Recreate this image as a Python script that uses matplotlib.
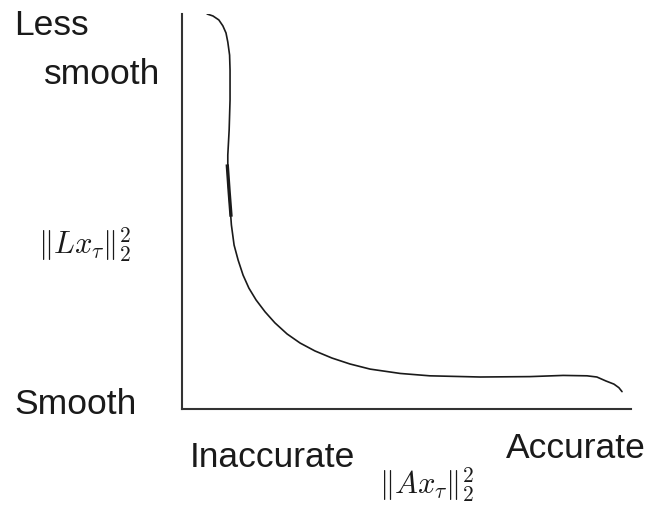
import numpy as np
import matplotlib.pyplot as plt

plt.rcParams['font.family'] = ['Liberation Sans', 'DejaVu Sans']
plt.rcParams['mathtext.fontset'] = 'cm'

# L-curve: residual norm (x) against solution seminorm (y), both normalised
residual = [0.056, 0.069, 0.082, 0.091, 0.098, 0.102, 0.106, 0.107, 0.107,
            0.105, 0.102, 0.102, 0.106, 0.110, 0.116, 0.125, 0.136, 0.149,
            0.165, 0.185, 0.207, 0.234, 0.263, 0.296, 0.334, 0.374, 0.419,
            0.486, 0.552, 0.664, 0.775, 0.849, 0.902, 0.924, 0.944, 0.962,
            0.973, 0.980]
seminorm = [1.000, 0.995, 0.985, 0.970, 0.952, 0.929, 0.896, 0.858, 0.782,
            0.706, 0.643, 0.592, 0.529, 0.466, 0.415, 0.377, 0.339, 0.306,
            0.276, 0.246, 0.218, 0.190, 0.167, 0.147, 0.129, 0.114, 0.101,
            0.090, 0.084, 0.081, 0.082, 0.085, 0.084, 0.081, 0.071, 0.063,
            0.054, 0.044]

# short highlighted piece on the steep branch
seg_residual = [0.101, 0.105, 0.109]
seg_seminorm = [0.615, 0.550, 0.491]

W, H = 651, 508
fig = plt.figure(figsize=(W / 100, H / 100), dpi=100)
ax = fig.add_axes([182 / W, 1 - 409 / H, 449 / W, 395 / H])

ax.plot(residual, seminorm, color='#1a1a1a', lw=1.2,
        solid_capstyle='round', solid_joinstyle='round')
ax.plot(seg_residual, seg_seminorm, color='#1a1a1a', lw=2.4)

ax.set_xlim(0, 1)
ax.set_ylim(0, 1)
ax.set_xticks([])
ax.set_yticks([])
for side in ['top', 'right']:
    ax.spines[side].set_visible(False)
for side in ['left', 'bottom']:
    ax.spines[side].set_color('#333333')
    ax.spines[side].set_linewidth(1.5)


def label(px, py, s, size):
    fig.text(px / W, 1 - py / H, s, fontsize=size, color='#1a1a1a',
             ha='left', va='baseline')


label(14, 35, 'Less', 25.5)
label(44, 84, 'smooth', 25.5)
label(14, 414, 'Smooth', 25.5)
label(190, 467, 'Inaccurate', 25.5)
label(506, 458, 'Accurate', 25.5)
label(38, 254, r'$\|Lx_\tau\|_2^2$', 22)
label(379, 494, r'$\|Ax_\tau\|_2^2$', 22)

fig.savefig('out.png', dpi=100)
